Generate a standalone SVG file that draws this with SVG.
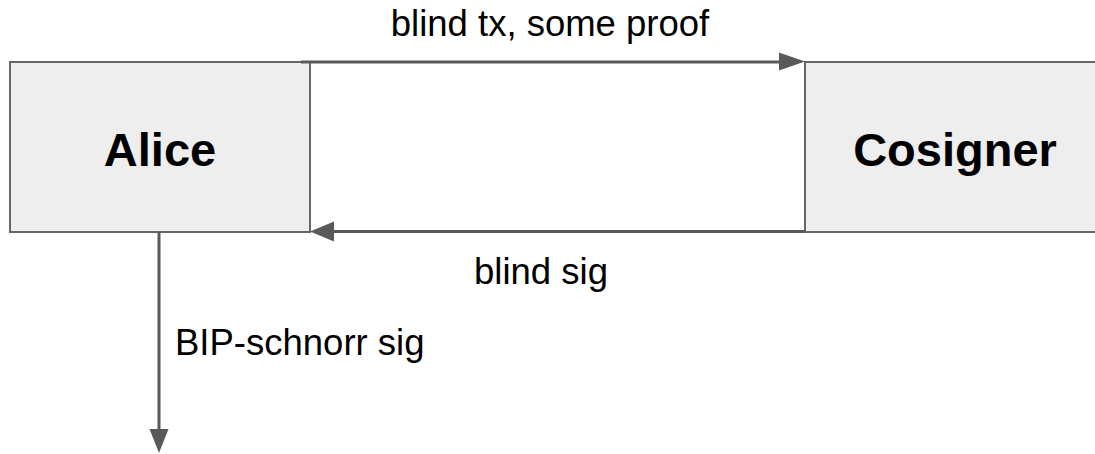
<svg xmlns="http://www.w3.org/2000/svg" width="1095" height="454" viewBox="0 0 1095 454">
<style>
.box{fill:#eeeeee;stroke:#666666;stroke-width:2}
.name{font-family:"Liberation Sans",Arial,sans-serif;font-weight:bold;font-size:47px;fill:#000;text-anchor:middle}
.lbl{font-family:"Liberation Sans",Arial,sans-serif;font-size:36.5px;fill:#000}
.conn{stroke:#595959;stroke-width:3;fill:none}
.head{fill:#595959}
</style>
<rect width="1095" height="454" fill="#ffffff"/>
<g id="alice">
<rect class="box" x="10" y="62" width="300" height="170"/>
<text class="name" x="160" y="166">Alice</text>
</g>
<g id="cosigner">
<rect class="box" x="805" y="62" width="300" height="170"/>
<text class="name" x="955" y="166">Cosigner</text>
</g>
<g id="connectors">
<line class="conn" x1="301" y1="62" x2="782" y2="62"/>
<polygon class="head" points="805,61.5 779,52.5 779,70.5"/>
<line class="conn" x1="805" y1="231.5" x2="332" y2="231.5"/>
<polygon class="head" points="310,231.5 334,221.5 334,241.5"/>
<line class="conn" x1="159" y1="232" x2="159" y2="431"/>
<polygon class="head" points="159,453 149.5,429 168.5,429"/>
<text class="lbl" x="550" y="36" text-anchor="middle">blind tx, some proof</text>
<text class="lbl" x="541" y="284" text-anchor="middle">blind sig</text>
<text class="lbl" x="175" y="355">BIP-schnorr sig</text>
</g>
</svg>
